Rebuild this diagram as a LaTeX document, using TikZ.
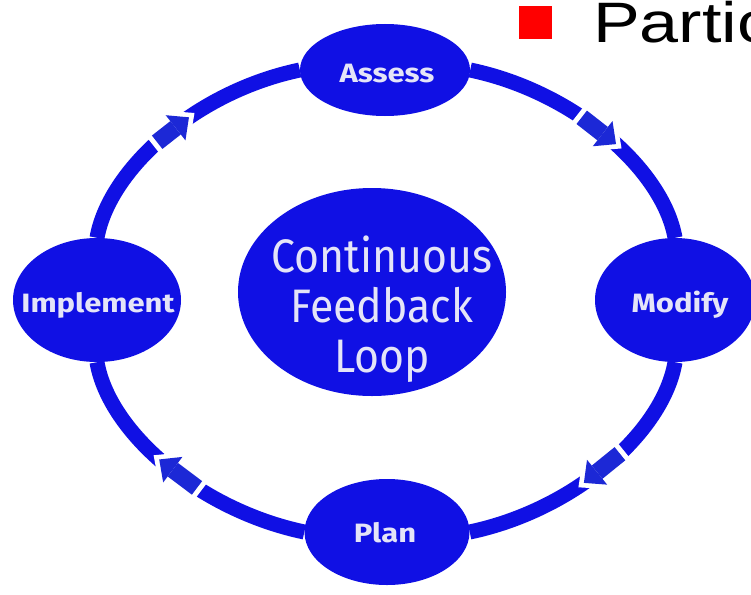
\documentclass[tikz,border=0pt]{standalone}
\usepackage{fontspec}
\setmainfont{Fira Sans}
\newfontfamily\arialf{Liberation Sans}
\usetikzlibrary{shapes.geometric,arrows.meta,calc}
\definecolor{ringblue}{RGB}{16,16,228}
\definecolor{arrowblue}{RGB}{28,40,214}
\definecolor{lav}{RGB}{228,228,248}
\definecolor{bulletred}{RGB}{255,0,0}
\pgfdeclarelayer{bg}
\pgfsetlayers{bg,main}
\newcommand\zlbl[1]{\scalebox{1.17}[1]{#1}}
\begin{document}
\begin{tikzpicture}[x=1pt,y=-1pt,
  stage/.style={ellipse, fill=ringblue, draw=none, inner sep=0pt},
  lbl/.style={text=lav, font=\fontsize{26.5}{30}\selectfont\bfseries, inner sep=0pt, anchor=base},
  ctext/.style={text=lav, font=\fontsize{47}{50}\selectfont, inner sep=0pt, anchor=center},
  ring/.style={draw=ringblue, line width=15pt},
  arrowwhite/.style={draw=white, line width=27pt, -{Triangle[width=46pt,length=25pt,line width=0pt]}},
  arrowblue/.style={draw=arrowblue, line width=17pt, -{Triangle[width=32pt,length=17pt,line width=0pt]}}
]
\useasboundingbox (0,0) rectangle (751,594);
\clip (0,0) rectangle (751,594);

% stage ellipses
\node[stage, minimum width=170pt, minimum height=92pt]  (assess) at (385,70) {};
\node[stage, minimum width=160pt, minimum height=124pt] (modify) at (675,300) {};
\node[stage, minimum width=165pt, minimum height=106pt] (plan)   at (387,532) {};
\node[stage, minimum width=168pt, minimum height=124pt] (impl)   at (97,300) {};
\node[stage, minimum width=268pt, minimum height=208pt] (cloop)  at (372,292) {};

% labels
\node[lbl] (assessT) at (387,82)  {\zlbl{Assess}};
\node[lbl] (modifyT) at (680,312) {\zlbl{Modify}};
\node[lbl] (planT)   at (385,542) {\zlbl{Plan}};
\node[lbl] (implT)   at (98,312)  {\zlbl{Implement}};
\node[ctext] (cloopT) at (382,312) {\scalebox{0.91}[1]{\begin{tabular}{@{}c@{}}Continuous\\Feedback\\Loop\end{tabular}}};

% background, ring and arrows behind the ellipses
\begin{pgfonlayer}{bg}
\fill[white] (0,0) rectangle (751,594);
\draw[ring] (impl.north) .. controls +(12,-68) and +(-105,22) .. (assess.west)
   coordinate[pos=0.47] (a1s) coordinate[pos=0.61] (a1t);
\draw[ring] (assess.east) .. controls +(105,22) and +(-12,-68) .. (modify.north)
   coordinate[pos=0.39] (a2s) coordinate[pos=0.54] (a2t);
\draw[ring] (modify.south) .. controls +(-12,70) and +(105,-22) .. (plan.east)
   coordinate[pos=0.44] (a3s) coordinate[pos=0.60] (a3t);
\draw[ring] (plan.west) .. controls +(-105,-22) and +(12,70) .. (impl.south)
   coordinate[pos=0.37] (a4s) coordinate[pos=0.53] (a4t);
\foreach \s/\t in {a1s/a1t,a2s/a2t,a3s/a3t,a4s/a4t}{
  \draw[arrowwhite] ($(\s)!-5pt!(\t)$) -- ($(\t)!-7pt!(\s)$);
  \draw[arrowblue] (\s) -- (\t);
}
\end{pgfonlayer}

% slide bullet
\fill[bulletred] (519,6) rectangle (552,39);
\node[inner sep=0pt, anchor=base west, font=\arialf\fontsize{57}{60}\selectfont] (partic) at (593,43) {\scalebox{1.23}[1]{Partic}};
\end{tikzpicture}
\end{document}
